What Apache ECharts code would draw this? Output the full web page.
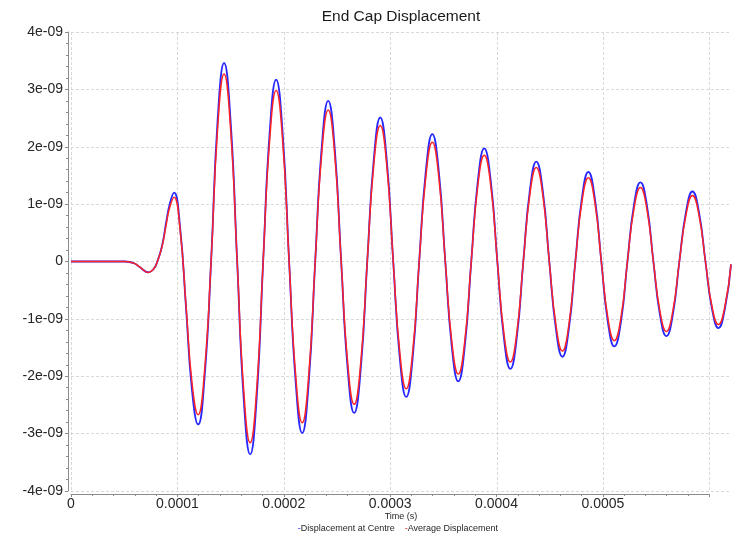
<!DOCTYPE html>
<html><head><meta charset="utf-8">
<script src="https://cdn.jsdelivr.net/npm/echarts@6/dist/echarts.min.js"></script>
<style>html,body{margin:0;padding:0;background:#fff}#c{width:738px;height:535px}</style>
</head><body><div id="c"></div>
<script>
const chartTitle = 'End Cap Displacement';
const xName = 'Time (s)';
const seriesNames = ['Displacement at Centre', 'Average Displacement'];
const xTickLabels = ['0', '0.0001', '0.0002', '0.0003', '0.0004', '0.0005', ''];
const yTickLabels = ['-4e-09', '-3e-09', '-2e-09', '-1e-09', '0', '1e-09', '2e-09', '3e-09', '4e-09'];

// time in microseconds
const timeUs = [0, 50.8, 59.2, 64.8, 72.7, 77.6, 81.1, 85.5, 89.4, 92.7, 96.8, 102.4, 108.1, 113.7,
  119.4, 125.5, 131.6, 137.7, 143.8, 149.9, 156.1, 162.2, 168.3, 174.4, 180.5, 186.6, 192.7, 198.8,
  204.9, 211.1, 217.2, 223.3, 229.4, 235.5, 241.6, 247.7, 253.8, 259.9, 266.0, 272.2, 278.3, 284.4,
  290.5, 296.6, 302.7, 308.8, 314.9, 321.0, 327.1, 333.3, 339.4, 345.5, 351.6, 357.7, 363.8, 369.9,
  376.0, 382.1, 388.2, 394.4, 400.5, 406.6, 412.7, 418.8, 424.9, 431.0, 437.1, 443.2, 449.3, 455.5,
  461.6, 467.7, 473.8, 479.9, 486.0, 492.1, 498.2, 504.3, 510.4, 516.6, 522.7, 528.8, 534.9, 541.0,
  547.1, 553.2, 559.3, 565.4, 571.5, 577.7, 583.8, 589.9, 596.0, 602.1, 608.2, 614.3, 620.0];

// displacement in units of 1e-9
const centreE9 = [0, 0, -0.03, -0.10, -0.19, -0.13, 0, 0.27, 0.68, 1.00, 1.20, 0.61, -0.82, -2.25,
  -2.84, -2.01, 0, 2.45, 3.46, 2.45, 0, -2.38, -3.36, -2.38, 0, 2.24, 3.17, 2.24,
  0, -2.11, -2.99, -2.11, 0, 1.98, 2.80, 1.98, 0, -1.87, -2.64, -1.87, 0, 1.77,
  2.51, 1.77, 0, -1.67, -2.36, -1.67, 0, 1.57, 2.22, 1.57, 0, -1.48, -2.09, -1.48,
  0, 1.39, 1.97, 1.39, 0, -1.32, -1.87, -1.32, 0, 1.23, 1.74, 1.23, 0, -1.17,
  -1.66, -1.17, 0, 1.10, 1.56, 1.10, 0, -1.05, -1.48, -1.05, 0, 0.98, 1.38, 0.98,
  0, -0.92, -1.30, -0.92, 0, 0.86, 1.22, 0.86, 0, -0.82, -1.16, -0.82, -0.05];

const averageE9 = [0, 0, -0.03, -0.10, -0.19, -0.13, 0, 0.26, 0.64, 0.94, 1.12, 0.57, -0.78, -2.12,
  -2.67, -1.89, 0, 2.31, 3.27, 2.31, 0, -2.23, -3.16, -2.23, 0, 2.11, 2.98, 2.11,
  0, -1.99, -2.81, -1.99, 0, 1.87, 2.64, 1.87, 0, -1.76, -2.49, -1.76, 0, 1.68,
  2.37, 1.68, 0, -1.57, -2.22, -1.57, 0, 1.47, 2.08, 1.47, 0, -1.39, -1.96, -1.39,
  0, 1.31, 1.85, 1.31, 0, -1.24, -1.75, -1.24, 0, 1.16, 1.64, 1.16, 0, -1.10,
  -1.56, -1.10, 0, 1.03, 1.46, 1.03, 0, -0.98, -1.38, -0.98, 0, 0.91, 1.29, 0.91,
  0, -0.86, -1.22, -0.86, 0, 0.81, 1.15, 0.81, 0, -0.78, -1.10, -0.78, -0.05];

const T_UNIT = 1e-6, Y_UNIT = 1e-9;
const FONT = "'Liberation Sans', Arial, sans-serif";
const BLUE = '#2626ff', RED = '#ff2424';
const AXIS_COLOR = '#8c8c8c', TEXT_COLOR = '#262626';
const gridLine = { show: true, lineStyle: { color: '#d9d9d9', width: 1, type: [3, 2] } };

const chart = echarts.init(document.getElementById('c'), null, { renderer: 'canvas' });
chart.setOption({
  animation: false,
  backgroundColor: '#ffffff',
  title: {
    text: chartTitle, left: 401, top: 9, padding: 0, textAlign: 'center',
    textStyle: { fontFamily: FONT, fontSize: 15.5, fontWeight: 'normal', color: '#1a1a1a' }
  },
  legend: {
    data: seriesNames, left: 292.7, top: 524, padding: 0, itemGap: 5,
    icon: 'rect', itemWidth: 0, itemHeight: 0,
    formatter: n => (n === seriesNames[0] ? '{b|-}' : '{r|-}') + n,
    textStyle: {
      fontFamily: FONT, fontSize: 9, color: TEXT_COLOR,
      rich: { b: { color: BLUE, fontSize: 9, fontFamily: FONT }, r: { color: RED, fontSize: 9, fontFamily: FONT } }
    }
  },
  grid: [
    { left: 71, right: 7, top: 32, bottom: 44, outerBoundsMode: 'none' },
    { left: 71, right: 28.7, top: 32, bottom: 44, outerBoundsMode: 'none' }
  ],
  xAxis: [
    {
      type: 'value', gridIndex: 0, min: 0, max: 0.00062, interval: 0.0001,
      axisLine: { show: false }, axisTick: { show: false }, axisLabel: { show: false },
      splitLine: Object.assign({ showMaxLine: false }, gridLine),
      name: xName, nameLocation: 'middle', nameGap: 21,
      nameTextStyle: { fontFamily: FONT, fontSize: 9, color: TEXT_COLOR }
    },
    {
      type: 'value', gridIndex: 1, min: 0, max: 0.0006, interval: 0.0001, offset: 3,
      axisLine: { show: true, onZero: false, lineStyle: { color: AXIS_COLOR, width: 1 } },
      axisTick: { show: true, length: 3, lineStyle: { color: AXIS_COLOR } },
      minorTick: { show: true, splitNumber: 5, length: 2, lineStyle: { color: AXIS_COLOR } },
      axisLabel: {
        margin: 3, fontFamily: FONT, fontSize: 14, color: TEXT_COLOR,
        formatter: v => xTickLabels[Math.round(v * 1e4)]
      },
      splitLine: { show: false }
    }
  ],
  yAxis: [
    {
      type: 'value', gridIndex: 0, min: -4e-9, max: 4e-9, interval: 1e-9, offset: 3,
      axisLine: { show: true, onZero: false, lineStyle: { color: AXIS_COLOR, width: 1 } },
      axisTick: { show: true, length: 3, lineStyle: { color: AXIS_COLOR } },
      minorTick: { show: true, splitNumber: 5, length: 2, lineStyle: { color: AXIS_COLOR } },
      axisLabel: {
        margin: 5, fontFamily: FONT, fontSize: 14, color: TEXT_COLOR,
        formatter: v => yTickLabels[Math.round(v / 1e-9) + 4]
      },
      splitLine: gridLine
    },
    { type: 'value', gridIndex: 1, min: -4e-9, max: 4e-9, show: false }
  ],
  series: [
    {
      type: 'line', name: seriesNames[0], xAxisIndex: 0, yAxisIndex: 0,
      data: timeUs.map((t, i) => [t * T_UNIT, centreE9[i] * Y_UNIT]),
      symbol: 'none', showSymbol: false, smooth: 0.5,
      lineStyle: { color: BLUE, width: 1.8 }, itemStyle: { color: BLUE },
      emphasis: { disabled: true }
    },
    {
      type: 'line', name: seriesNames[1], xAxisIndex: 0, yAxisIndex: 0,
      data: timeUs.map((t, i) => [t * T_UNIT, averageE9[i] * Y_UNIT]),
      symbol: 'none', showSymbol: false, smooth: 0.5,
      lineStyle: { color: RED, width: 1.5 }, itemStyle: { color: RED },
      emphasis: { disabled: true }
    }
  ]
});
</script></body></html>
